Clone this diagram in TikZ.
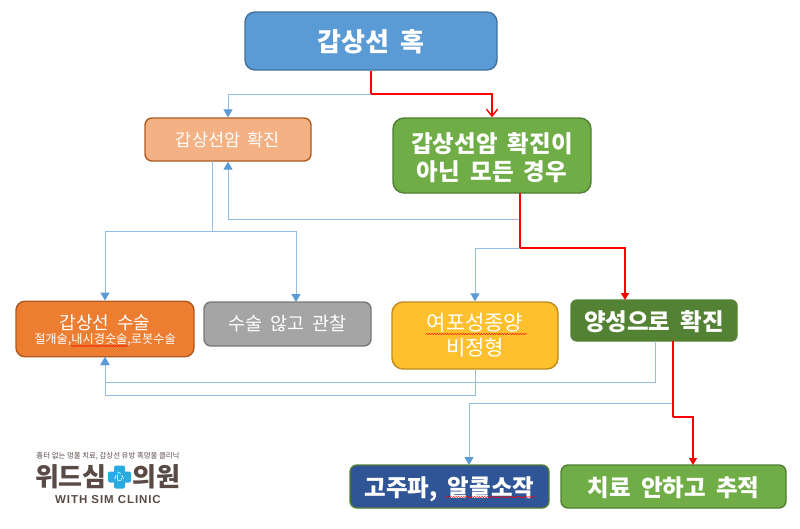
\documentclass[tikz,border=0pt]{standalone}
\usepackage{fontspec}
\setmainfont[WordSpace=1.9]{Noto Sans CJK KR}
\newfontfamily\tightfont{Noto Sans CJK KR}
\newfontfamily\latinlogo[LetterSpace=8]{Liberation Sans}
\usetikzlibrary{arrows.meta,decorations.pathmorphing}
\definecolor{cblue}{HTML}{5B9BD5}
\definecolor{cblueb}{HTML}{41719C}
\definecolor{cpeach}{HTML}{F4B183}
\definecolor{cpeachb}{HTML}{AE5A21}
\definecolor{cgreen}{HTML}{70AD47}
\definecolor{cgreenb}{HTML}{507E32}
\definecolor{corange}{HTML}{ED7D31}
\definecolor{cgray}{HTML}{A5A5A5}
\definecolor{cgrayb}{HTML}{787878}
\definecolor{cyellow}{HTML}{FFC02D}
\definecolor{cyellowb}{HTML}{BC8C1E}
\definecolor{cdark}{HTML}{548235}
\definecolor{cnavy}{HTML}{2F5597}
\definecolor{cline}{HTML}{93BFE6}
\definecolor{clogo}{HTML}{5A4A45}
\definecolor{ccross}{HTML}{29ABE2}
\newcommand{\fs}[1]{\fontsize{#1}{#1}\selectfont}
\tikzset{
  box/.style={rectangle,rounded corners=9pt,line width=1.4pt,inner sep=0pt,text=white,align=center},
  lowered/.style={text height=#1,text depth=0pt},
  blueline/.style={draw=cline,line width=1pt},
  bluearrow/.style={blueline,-{Triangle[length=8pt,width=9pt,fill=cblue,color=cblue]}},
  redline/.style={draw=red,line width=1.4pt},
  redarrow/.style={redline,-{Triangle[length=7pt,width=8pt]}},
  redopen/.style={redline,-{Straight Barb[length=7pt,width=11pt]}},
  wavy/.style={draw=red,line width=0.4pt,decorate,decoration={snake,amplitude=0.6pt,segment length=2.6pt}},
  logotext/.style={inner sep=0pt,text=clogo},
}
\begin{document}
\begin{tikzpicture}[x=1pt,y=-1pt]
\fill[white] (0,0) rectangle (800,528);
\useasboundingbox (0,0) rectangle (800,528);
% boxes
\node[box,fill=cblue,draw=cblueb,minimum width=252pt,minimum height=58pt,rounded corners=10pt,lowered=21pt] (top) at (371,41) {\fs{26}\bfseries 갑상선 혹};
\node[box,fill=cpeach,draw=cpeachb,minimum width=166pt,minimum height=43pt,rounded corners=7pt] (peach) at (228,139.5) {\fs{17.5}갑상선암 확진};
\node[box,fill=cgreen,draw=cgreenb,minimum width=198pt,minimum height=75pt,rounded corners=11pt,font=\fontsize{23.5}{27}\selectfont\bfseries] (green) at (492,155.5) {\rule{0pt}{24pt}갑상선암 확진이\\[1pt] 아닌 모든 경우};
\node[box,fill=corange,draw=cpeachb,minimum width=178pt,minimum height=55.5pt] (orange) at (105,329) {\fontsize{18}{18}\selectfont\rule{0pt}{18pt}갑상선 수술\\[2pt] \fontsize{12.2}{18}\selectfont\tightfont 절개술,내시경숫술,로봇수술};
\node[box,fill=cgray,draw=cgrayb,minimum width=167pt,minimum height=44pt,rounded corners=7pt] (gray) at (287.5,324) {\fs{18.5}수술 않고 관찰};
\node[box,fill=cyellow,draw=cyellowb,minimum width=166pt,minimum height=67pt,rounded corners=11pt,font=\fontsize{21}{25}\selectfont] (yellow) at (475,335.5) {여포성종양\\ 비정형};
\node[box,fill=cdark,draw=cdark,minimum width=166pt,minimum height=41pt,rounded corners=6pt,lowered=20pt] (dark) at (654,320.5) {\fs{23.5}\bfseries 양성으로 확진};
\node[box,fill=cnavy,draw=cgreenb,minimum width=199pt,minimum height=43pt,rounded corners=7pt,lowered=20pt] (navy) at (449.5,486.5) {\fs{23.5}\bfseries 고주파, 알콜소작};
\node[box,fill=cgreen,draw=cgreenb,minimum width=225pt,minimum height=43pt,rounded corners=7pt,lowered=20pt] (green2) at (673.5,486.5) {\fs{23.5}\bfseries 치료 안하고 추적};
% connector waypoints
\coordinate (j1) at (371,94);
\coordinate (pout) at (212,161);
\coordinate (j2) at (212,231);
\coordinate (grayin) at (296,302);
\coordinate (gout) at (520,193);
\coordinate (j3) at (520,219);
\coordinate (j4) at (520,248);
\coordinate (darkin) at (625,300);
\coordinate (darkout1) at (655,341);
\coordinate (j5) at (655,382);
\coordinate (yj) at (475,395);
\coordinate (darkout2) at (673,341);
\coordinate (j6) at (673,403);
\coordinate (j7) at (673,417);
\coordinate (navyin) at (469,465);
\coordinate (green2in) at (693,465);
\coordinate (orangein) at (105,357);
% blue connectors
\draw[bluearrow] (j1) -| (peach.north);
\draw[blueline] (pout) -- (j2);
\draw[bluearrow] (j2) -| (orange.north);
\draw[bluearrow] (j2) -| (grayin);
\draw[bluearrow] (j3) -| (peach.south);
\draw[bluearrow] (j4) -| (yellow.north);
\draw[bluearrow] (darkout1) -- (j5) -| (orangein);
\draw[bluearrow] (yellow.south) -- (yj) -| (orangein);
\draw[bluearrow] (j6) -| (navyin);
% red connectors
\draw[redline] (top.south) -- (j1);
\draw[redopen] (j1) -| (green.north);
\draw[redline] (gout) -- (j4);
\draw[redarrow] (j4) -| (darkin);
\draw[redline] (darkout2) -- (j7);
\draw[redarrow] (j7) -| (green2in);
% spell-check underlines
\coordinate (w1a) at (71,346); \coordinate (w1b) at (128,346);
\coordinate (w2a) at (426,334); \coordinate (w2b) at (527,334);
\coordinate (w3a) at (445,497); \coordinate (w3b) at (536,497);
\draw[wavy] (w1a) -- (w1b);
\draw[wavy] (w2a) -- (w2b);
\draw[wavy] (w3a) -- (w3b);
% logo
\node[logotext] (tag) at (108,456) {\fs{7.4}\tightfont 흉터 없는 멍울 치료, 갑상선 유방 혹멍울 클리닉};
\node[logotext,anchor=east] (wi) at (107,477) {\fs{26}\bfseries 위드심};
\node[logotext,anchor=west] (ui) at (132,477) {\fs{26}\bfseries 의원};
\fill[ccross,rounded corners=2pt] (114,465.5) rectangle (125,488.5);
\fill[ccross,rounded corners=2pt] (108,471.5) rectangle (131,482.5);
\node[inner sep=0pt,text=white] (xin) at (119,477) {\fs{10}心};
\node[logotext] (wsc) at (108,500) {\fs{11.5}\latinlogo\bfseries WITH SIM CLINIC};
\end{tikzpicture}
\end{document}
